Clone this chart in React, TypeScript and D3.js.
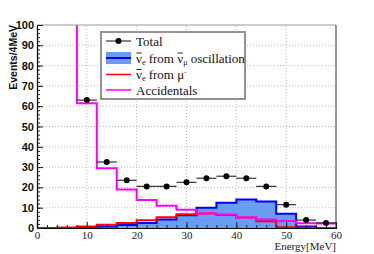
import { useRef, useEffect } from 'react';
import * as d3 from 'd3';

// 4 MeV bins, low edges
const binLow = [0, 4, 8, 12, 16, 20, 24, 28, 32, 36, 40, 44, 48, 52, 56];
const binHigh = 60;

const oscillation = [0, 0, 0.3, 0.8, 1.5, 2.5, 4.2, 6.3, 10, 12.5, 14.1, 13.1, 7.0, 0.7, 0];
const muMinus = [0, 0.3, 0.8, 1.6, 2.5, 3.8, 5.3, 6.8, 7.2, 6.4, 5.2, 3.3, 0.4, 0.1, 0];
const accidentals = [150, 150, 61.5, 29.4, 19.0, 13.8, 11.0, 9.0, 7.2, 6.6, 5.2, 4.2, 3.4, 2.4, 2.2];

const totalEnergy = [10, 14, 18, 22, 26, 30, 34, 38, 42, 46, 50, 54, 58];
const totalEvents = [63, 32.5, 23.5, 20.5, 20.5, 22.5, 24.5, 25.5, 24.5, 20.5, 11.5, 3.9, 2.5];

const xTicks = [0, 10, 20, 30, 40, 50, 60];
const yTicks = [0, 10, 20, 30, 40, 50, 60, 70, 80, 90, 100];

const legendLabels = ['Total', 'oscillation', 'mu', 'Accidentals'];

const useD3 = (renderChartFn, dependencies) => {
  const ref = useRef(null);
  useEffect(() => {
    const svg = d3.select(ref.current);
    svg.selectAll('*').remove();
    renderChartFn(svg);
  }, dependencies);
  return ref;
};

const steps = (vals) => binLow.map((b, i) => [b, vals[i]]).concat([[binHigh, vals[vals.length - 1]]]);

export default function App() {
  const ref = useD3((svg) => {
    const width = 374;
    const height = 254;
    const margin = { top: 25, right: 38, bottom: 26, left: 37 };

    const x = d3.scaleLinear().domain([0, 60]).range([margin.left, width - margin.right]);
    const y = d3.scaleLinear().domain([0, 100]).range([height - margin.bottom, margin.top]);

    svg.append('rect').attr('width', width).attr('height', height).attr('fill', 'white');

    svg.append('defs').append('clipPath').attr('id', 'plotclip')
      .append('rect')
      .attr('x', x(0)).attr('y', y(100))
      .attr('width', x(60) - x(0)).attr('height', y(0) - y(100));

    // grid
    const grid = svg.append('g').attr('stroke', '#aaa').attr('stroke-width', 0.8).attr('stroke-dasharray', '1,2');
    grid.selectAll('.gx').data(xTicks.slice(1, -1)).join('line')
      .attr('x1', (d) => x(d)).attr('x2', (d) => x(d))
      .attr('y1', y(0)).attr('y2', y(100));
    grid.selectAll('.gy').data(yTicks.slice(1, -1)).join('line')
      .attr('x1', x(0)).attr('x2', x(60))
      .attr('y1', (d) => y(d)).attr('y2', (d) => y(d));

    const plot = svg.append('g').attr('clip-path', 'url(#plotclip)');

    const area = d3.area().curve(d3.curveStepAfter)
      .x((d) => x(d[0])).y0(y(0)).y1((d) => y(d[1]));
    const line = d3.line().curve(d3.curveStepAfter)
      .x((d) => x(d[0])).y((d) => y(d[1]));

    plot.append('path').datum(steps(oscillation))
      .attr('fill', '#6a9cf4').attr('d', area);
    plot.append('path').datum(steps(oscillation))
      .attr('fill', 'none').attr('stroke', '#0000ff').attr('stroke-width', 2).attr('d', line);
    plot.append('path').datum(steps(muMinus))
      .attr('fill', 'none').attr('stroke', '#ff0000').attr('stroke-width', 2).attr('d', line);
    plot.append('path').datum(steps(accidentals))
      .attr('fill', 'none').attr('stroke', '#ff00ff').attr('stroke-width', 2).attr('d', line);

    // total points with x error bars
    const pts = plot.append('g');
    pts.selectAll('line').data(totalEnergy).join('line')
      .attr('x1', (d) => x(d - 2)).attr('x2', (d) => x(d + 2))
      .attr('y1', (d, i) => y(totalEvents[i])).attr('y2', (d, i) => y(totalEvents[i]))
      .attr('stroke', '#333').attr('stroke-width', 1.2);
    pts.selectAll('circle').data(totalEnergy).join('circle')
      .attr('cx', (d) => x(d)).attr('cy', (d, i) => y(totalEvents[i]))
      .attr('r', 3).attr('fill', 'black');

    // frame
    svg.append('line').attr('x1', x(0)).attr('x2', x(60)).attr('y1', y(100)).attr('y2', y(100))
      .attr('stroke', '#999').attr('stroke-width', 1);
    svg.append('line').attr('x1', x(60)).attr('x2', x(60)).attr('y1', y(100)).attr('y2', y(0))
      .attr('stroke', '#333').attr('stroke-width', 1);

    // x axis
    const xAxis = svg.append('g').attr('transform', `translate(0,${y(0)})`);
    xAxis.call(d3.axisBottom(x).tickValues(d3.range(0, 61, 2)).tickSize(-3).tickFormat(''))
      .call((g) => g.select('.domain').remove());
    xAxis.append('g').call(d3.axisBottom(x).tickValues(xTicks).tickSize(-6).tickPadding(3).tickFormat(d3.format('d')))
      .call((g) => g.select('.domain').attr('stroke', 'black').attr('stroke-width', 1.2))
      .call((g) => g.selectAll('text').attr('font-family', '"Liberation Serif", serif').attr('font-size', 11).attr('fill', '#222'));
    xAxis.selectAll('.tick line').attr('stroke', '#222');
    svg.append('text').attr('x', x(60)).attr('y', 250).attr('text-anchor', 'end')
      .attr('font-family', '"Liberation Serif", serif').attr('font-size', 11).attr('fill', '#222')
      .text('Energy[MeV]');

    // y axis
    const yAxis = svg.append('g').attr('transform', `translate(${x(0)},0)`);
    yAxis.call(d3.axisLeft(y).tickValues(d3.range(0, 101, 2)).tickSize(-3).tickFormat(''))
      .call((g) => g.select('.domain').remove());
    yAxis.append('g').call(d3.axisLeft(y).tickValues(yTicks).tickSize(-6).tickPadding(3).tickFormat(d3.format('d')))
      .call((g) => g.select('.domain').attr('stroke', 'black').attr('stroke-width', 1.2))
      .call((g) => g.selectAll('text').attr('font-family', '"Liberation Sans", Arial, sans-serif').attr('font-weight', 'bold').attr('font-size', 11).attr('fill', '#111'));
    yAxis.selectAll('.tick line').attr('stroke', '#222');
    svg.append('text').attr('transform', `translate(17,${y(100)}) rotate(-90)`).attr('text-anchor', 'end')
      .attr('font-family', '"Liberation Sans", Arial, sans-serif').attr('font-weight', 'bold').attr('font-size', 10.5).attr('fill', '#111')
      .text('Events/4MeV');

    // legend
    const lg = svg.append('g');
    lg.append('rect').attr('x', 101).attr('y', 32).attr('width', 144).attr('height', 67)
      .attr('fill', 'white').attr('stroke', '#888').attr('stroke-width', 1.8);
    const rowY = [41, 58, 74.5, 90];
    const sx0 = 106, sx1 = 131, tx = 136;
    const font = '"Liberation Serif", serif';
    const nuBar = (t, yy) => {
      // nu with a drawn bar above it
      t.append('tspan').text('ν');
    };
    legendLabels.forEach((key, i) => {
      const yy = rowY[i];
      if (key === 'Total') {
        lg.append('line').attr('x1', sx0).attr('x2', sx1).attr('y1', yy).attr('y2', yy).attr('stroke', '#333').attr('stroke-width', 1.2);
        lg.append('circle').attr('cx', (sx0 + sx1) / 2).attr('cy', yy).attr('r', 3).attr('fill', 'black');
      } else if (key === 'oscillation') {
        lg.append('rect').attr('x', sx0).attr('y', yy - 6).attr('width', sx1 - sx0).attr('height', 12).attr('fill', '#6a9cf4');
        lg.append('line').attr('x1', sx0).attr('x2', sx1).attr('y1', yy).attr('y2', yy).attr('stroke', '#0000ff').attr('stroke-width', 2);
      } else {
        lg.append('line').attr('x1', sx0).attr('x2', sx1).attr('y1', yy).attr('y2', yy)
          .attr('stroke', key === 'mu' ? '#ff0000' : '#ff00ff').attr('stroke-width', 1.5);
      }
      const t = lg.append('text').attr('x', tx).attr('y', yy + 4.5).attr('font-family', font).attr('font-size', 13).attr('fill', '#111');
      if (key === 'Total' || key === 'Accidentals') {
        t.text(key);
      } else {
        nuBar(t, yy);
        t.append('tspan').attr('font-size', 8).attr('dy', 2).text('e');
        if (key === 'oscillation') {
          t.append('tspan').attr('dy', -2).text(' from ');
          nuBar(t, yy);
          t.append('tspan').attr('font-size', 8).attr('dy', 2).text('μ');
          t.append('tspan').attr('dy', -2).text(' oscillation');
        } else {
          t.append('tspan').attr('dy', -2).text(' from μ');
          t.append('tspan').attr('font-size', 7).attr('dy', -5).text('-');
        }
      }
      // bars over each nu, placed from the measured glyph positions
      const node = t.node();
      const str = node.textContent || '';
      for (let k = 0; k < str.length; k++) {
        if (str[k] !== 'ν') continue;
        const ext = node.getExtentOfChar(k);
        lg.append('line')
          .attr('x1', ext.x + 0.5).attr('x2', ext.x + ext.width - 0.3)
          .attr('y1', yy - 5).attr('y2', yy - 5)
          .attr('stroke', '#111').attr('stroke-width', 0.9);
      }
    });
  }, []);

  return (
    <svg
      ref={ref}
      width={374}
      height={254}
      style={{ position: 'absolute', left: 0, top: 0, display: 'block' }}
    />
  );
}
